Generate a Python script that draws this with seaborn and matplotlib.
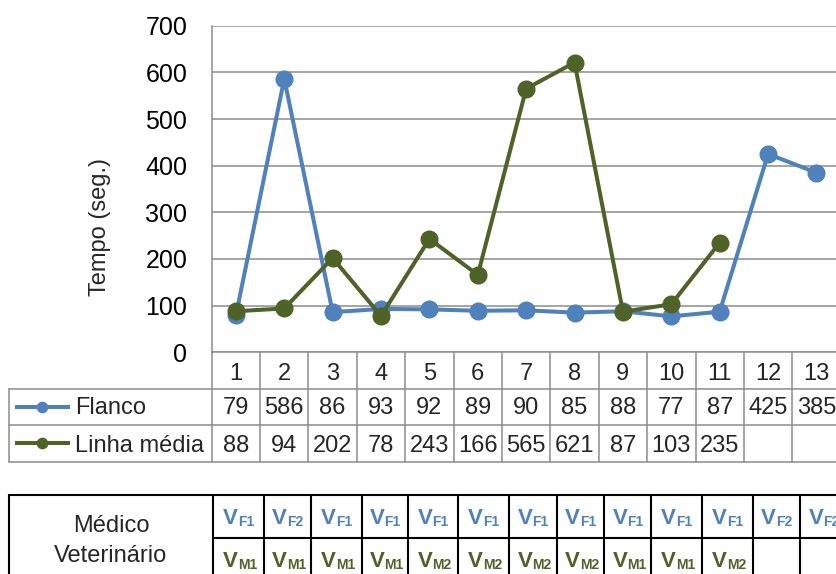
import matplotlib
matplotlib.use("Agg")
import matplotlib.pyplot as plt
import matplotlib.transforms as mtransforms
import pandas as pd
import seaborn as sns

# ---- data -------------------------------------------------------------
animais = list(range(1, 14))
flanco = [79, 586, 86, 93, 92, 89, 90, 85, 88, 77, 87, 425, 385]
linha_media = [88, 94, 202, 78, 243, 166, 565, 621, 87, 103, 235, None, None]
series = ["Flanco", "Linha média"]
cores = {"Flanco": "#4F81BD", "Linha média": "#4F6228"}
y_ticks = [0, 100, 200, 300, 400, 500, 600, 700]
vet_flanco = ["F1", "F2", "F1", "F1", "F1", "F1", "F1", "F1", "F1", "F1", "F1", "F2", "F2"]
vet_linha = ["M1", "M1", "M1", "M1", "M2", "M2", "M2", "M2", "M1", "M1", "M2", "", ""]

df = pd.DataFrame({
    "animal": animais * 2,
    "tempo": flanco + linha_media,
    "serie": [series[0]] * len(animais) + [series[1]] * len(animais),
})

# ---- style ------------------------------------------------------------
sns.set_theme(style="white")
plt.rcParams["font.family"] = ["Liberation Sans", "DejaVu Sans"]

W, H = 837, 574
FS = 17
GRID = "#8c8c8c"

fig = plt.figure(figsize=(W / 100, H / 100), dpi=100)

# pixel-space layer (origin top-left) for the tables
tab = fig.add_axes([0, 0, 1, 1])
tab.set_xlim(0, W)
tab.set_ylim(H, 0)
tab.set_autoscale_on(False)
tab.axis("off")

# plot area
x0, y_top, y_bot, col_w = 211.7, 25.7, 352.3, 48.38
ax = fig.add_axes([x0 / W, 1 - y_bot / H, col_w * len(animais) / W, (y_bot - y_top) / H])
ax.set_facecolor("none")

sns.lineplot(
    data=df, x="animal", y="tempo", hue="serie", hue_order=series,
    palette=cores, marker="o", markersize=13, markeredgewidth=0,
    linewidth=2.9, legend=False, sort=False, ax=ax,
)

ax.set_xlim(0.5, len(animais) + 0.5)
ax.set_ylim(0, 700)
ax.set_yticks(y_ticks)
ax.set_xticks([])
ax.set_xlabel("")
ax.set_ylabel("Tempo (seg.)", fontsize=FS, va="center")
ax.yaxis.set_label_coords(-0.178, 0.384)
ax.tick_params(axis="y", length=0, pad=17.6, labelsize=18, labelcolor="black")
ax.yaxis.grid(True, color=GRID, lw=1.1)
ax.set_axisbelow(True)
for s in ("top", "right"):
    ax.spines[s].set_visible(False)
for s in ("left", "bottom"):
    ax.spines[s].set_color(GRID)
    ax.spines[s].set_linewidth(1.1)

# ---- data table under the plot ---------------------------------------
bt = mtransforms.blended_transform_factory(ax.transData, tab.transData)
r0, r1, r2, r3 = y_bot, 388.5, 425.0, 462.0
for k in range(len(animais) + 1):
    tab.plot([0.5 + k, 0.5 + k], [r0, r3], transform=bt, color=GRID, lw=1.1, clip_on=False)
for yy in (r1, r2, r3):
    tab.plot([9, W + 5], [yy, yy], color=GRID, lw=1.1, clip_on=False)
tab.plot([9, 9], [r1, r3], color=GRID, lw=1.1, clip_on=False)

for i, a in enumerate(animais):
    tab.text(a, 380.5, str(a), transform=bt, ha="center", va="baseline", fontsize=FS)
    tab.text(a, 414.3, str(flanco[i]), transform=bt, ha="center", va="baseline", fontsize=FS)
    if linha_media[i] is not None:
        tab.text(a, 451.5, str(linha_media[i]), transform=bt, ha="center", va="baseline", fontsize=FS)

for nome, yk, yb in ((series[0], 406.7, 414.3), (series[1], 443.3, 451.5)):
    tab.plot([15, 70], [yk, yk], color=cores[nome], lw=2.9, solid_capstyle="butt")
    tab.plot([41.7], [yk], marker="o", markersize=8.4, markeredgewidth=0, color=cores[nome])
    tab.text(75, yb, nome, ha="left", va="baseline", fontsize=FS)

# ---- veterinarian table ----------------------------------------------
vet_bordas = [213.3, 264, 310.7, 361.7, 408.3, 457.7, 509.3, 556.7,
              604.3, 651.3, 702, 752.7, 799.7, 848]
t_top, t_mid = 495.0, 537.7
LW = 1.5
tab.plot([9, W + 5], [t_top, t_top], color="black", lw=LW, clip_on=False)
tab.plot([vet_bordas[0], W + 5], [t_mid, t_mid], color="black", lw=LW, clip_on=False)
tab.plot([9, 9], [t_top, H + 5], color="black", lw=LW, clip_on=False)
for xb in vet_bordas:
    tab.plot([xb, xb], [t_top, H + 5], color="black", lw=LW, clip_on=False)

tab.text(111, 531.5, "Médico", ha="center", va="baseline", fontsize=FS)
tab.text(111, 561.7, "Veterinário", ha="center", va="baseline", fontsize=FS)


def vet_label(cx, base, sub, cor):
    # bold "V" with a bold subscript, centred on the cell
    tab.text(cx - 0.5, base, "V", ha="right", va="baseline", fontsize=16,
             fontweight="bold", color=cor, clip_on=False)
    tab.text(cx - 0.5, base + 1.7, sub, ha="left", va="baseline", fontsize=10,
             fontweight="bold", color=cor, clip_on=False)


for i in range(len(animais)):
    cx = (vet_bordas[i] + vet_bordas[i + 1]) / 2
    if vet_flanco[i]:
        vet_label(cx, 524.3, vet_flanco[i], cores[series[0]])
    if vet_linha[i]:
        vet_label(cx, 567.0, vet_linha[i], cores[series[1]])

fig.savefig("out.png", dpi=100)
